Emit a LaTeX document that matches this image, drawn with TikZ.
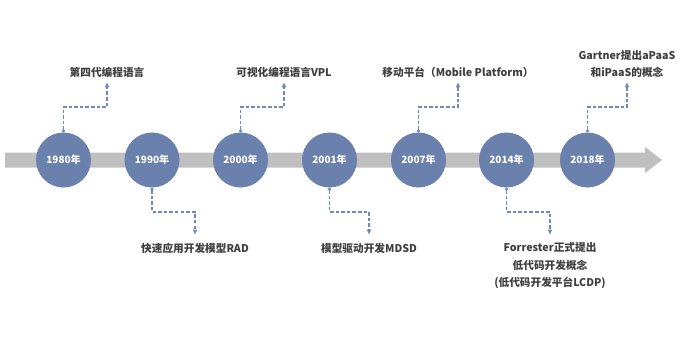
\documentclass[tikz,border=0pt]{standalone}
\usepackage{fontspec}
\usepackage{xcolor}
\usepackage{tikz}
\usetikzlibrary{arrows.meta,positioning}
\newfontfamily\cjk{Noto Sans CJK SC}
\definecolor{YearBlue}{HTML}{6A80AD}
\definecolor{LinkBlue}{HTML}{6F88B9}
\definecolor{BarGray}{HTML}{BFBFBF}
\definecolor{Ink}{HTML}{3F3F3F}
\tikzset{
  every picture/.style={line width=0.72pt},
  yearball/.style={
    circle,
    fill=YearBlue,
    minimum size=41.25pt,
    inner sep=0pt,
    outer sep=0pt,
    text=white,
    font=\cjk\bfseries\fontsize{7.5}{9}\selectfont
  },
  note/.style={
    align=center,
    text=Ink,
    inner xsep=1pt,
    font=\cjk\bfseries\fontsize{8}{13}\selectfont
  },
  noteabove/.style={note, anchor=south, inner ysep=2.8pt},
  notebelow/.style={note, anchor=north, inner ysep=5.5pt},
  link/.style={
    draw=LinkBlue,
    line width=0.8pt,
    dash pattern=on 2.6pt off 1.6pt,
    {Circle[length=2.4pt]}-{Latex[length=4pt,width=3.6pt]}
  }
}

\begin{document}
\begin{tikzpicture}[x=0.75pt,y=0.75pt]
  \useasboundingbox (0,-180) rectangle (680,160);

  % time axis
  \fill[BarGray] (5,-7.5) -- (645,-7.5) -- (645,-13) -- (662,0)
    -- (645,13) -- (645,7.5) -- (5,7.5) -- cycle;

  % years
  \node[yearball] (c1980) at (63.5,0) {1980年};
  \node[yearball] (c1990) at (152,0) {1990年};
  \node[yearball] (c2000) at (240.5,0) {2000年};
  \node[yearball] (c2001) at (329.5,0) {2001年};
  \node[yearball] (c2007) at (418.5,0) {2007年};
  \node[yearball] (c2014) at (506.5,0) {2014年};
  \node[yearball] (c2018) at (587.5,0) {2018年};

  % events above the axis
  \node[noteabove] (t1980) at (107,78) {第四代编程语言};
  \node[noteabove] (t2000) at (284,78) {可视化编程语言VPL};
  \node[noteabove] (t2007) at (458,78) {移动平台（Mobile Platform）};
  \node[noteabove] (t2018) at (627,78) {Gartner提出aPaaS\\和iPaaS的概念};

  % events below the axis
  \node[notebelow] (b1990) at (195,-75) {快速应用开发模型RAD};
  \node[notebelow] (b2001) at (369,-75) {模型驱动开发MDSD};
  \node[notebelow] (b2014) at (550,-75) {Forrester正式提出\\低代码开发概念\\(低代码开发平台LCDP)};

  \draw[link] (c1980.north) -- ++(0,25.5) -| (t1980.south);
  \draw[link] (c2000.north) -- ++(0,25.5) -| (t2000.south);
  \draw[link] (c2007.north) -- ++(0,25.5) -| (t2007.south);
  \draw[link] (c2018.north) -- ++(0,25.5) -| (t2018.south);

  \draw[link] (c1990.south) -- ++(0,-24.5) -| (b1990.north);
  \draw[link] (c2001.south) -- ++(0,-24.5) -| (b2001.north);
  \draw[link] (c2014.south) -- ++(0,-24.5) -| (b2014.north);
\end{tikzpicture}
\end{document}
